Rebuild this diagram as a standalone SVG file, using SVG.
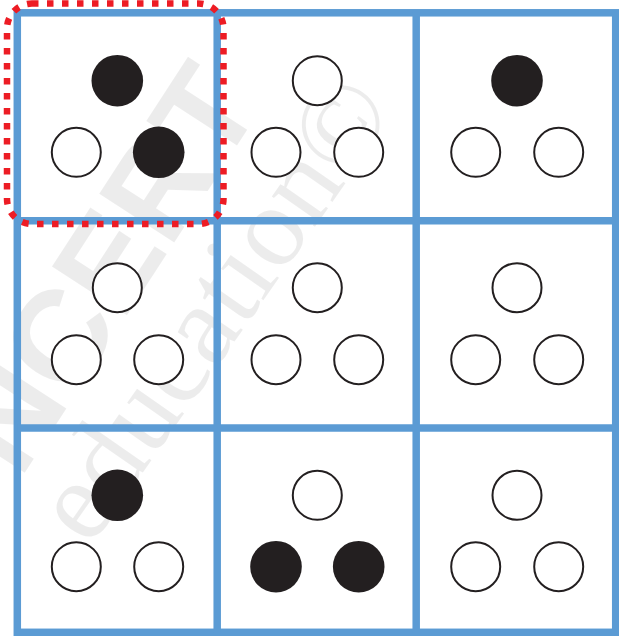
<svg xmlns="http://www.w3.org/2000/svg" width="619" height="636" viewBox="0 0 619 636">
<style>
.wm{fill:#000;fill-opacity:0.075}
.grid{fill:none;stroke:#5b9bd4;stroke-width:7.5}
.open{fill:#fff;stroke:#231f20;stroke-width:2}
.full{fill:#231f20}
.sel{fill:none;stroke:#ed1c24;stroke-width:6.5;stroke-dasharray:6.5 8.5}
</style>
<rect width="619" height="636" fill="#fff"/>
<g id="watermark">
<text class="wm" x="0" y="0" font-family="Liberation Sans, Arial, sans-serif" font-weight="bold" font-size="130" transform="translate(20,480) rotate(-57)">NCERT</text>
<text class="wm" x="0" y="0" font-family="Liberation Serif, Times New Roman, serif" font-size="115" transform="translate(90,548) rotate(-55)">education©</text>
</g>
<g id="connectors">
<rect class="grid" x="17.3" y="12.8" width="598.4" height="619.5"/>
<line class="grid" x1="217.2" y1="12.8" x2="217.2" y2="632.3"/>
<line class="grid" x1="416.2" y1="12.8" x2="416.2" y2="632.3"/>
<line class="grid" x1="17.3" y1="220.7" x2="615.7" y2="220.7"/>
<line class="grid" x1="17.3" y1="428" x2="615.7" y2="428"/>
</g>
<g id="cell-1-1">
<circle class="full" cx="117.3" cy="80.7" r="25.8"/>
<circle class="open" cx="76.3" cy="152.3" r="24.5"/>
<circle class="full" cx="158.7" cy="152.3" r="25.8"/>
</g>
<g id="cell-1-2">
<circle class="open" cx="317.3" cy="80.7" r="24.5"/>
<circle class="open" cx="276" cy="152.3" r="24.5"/>
<circle class="open" cx="358.7" cy="152.3" r="24.5"/>
</g>
<g id="cell-1-3">
<circle class="full" cx="517" cy="80.7" r="25.8"/>
<circle class="open" cx="475.7" cy="152.3" r="24.5"/>
<circle class="open" cx="558.7" cy="152.3" r="24.5"/>
</g>
<g id="cell-2-1">
<circle class="open" cx="117.3" cy="287.7" r="24.5"/>
<circle class="open" cx="76.3" cy="359.7" r="24.5"/>
<circle class="open" cx="158.7" cy="359.7" r="24.5"/>
</g>
<g id="cell-2-2">
<circle class="open" cx="317.3" cy="287.7" r="24.5"/>
<circle class="open" cx="276" cy="359.7" r="24.5"/>
<circle class="open" cx="358.7" cy="359.7" r="24.5"/>
</g>
<g id="cell-2-3">
<circle class="open" cx="517" cy="287.7" r="24.5"/>
<circle class="open" cx="475.7" cy="359.7" r="24.5"/>
<circle class="open" cx="558.7" cy="359.7" r="24.5"/>
</g>
<g id="cell-3-1">
<circle class="full" cx="117.3" cy="495.3" r="25.8"/>
<circle class="open" cx="76.3" cy="566.7" r="24.5"/>
<circle class="open" cx="158.7" cy="566.7" r="24.5"/>
</g>
<g id="cell-3-2">
<circle class="open" cx="317.3" cy="495.3" r="24.5"/>
<circle class="full" cx="276" cy="566.7" r="25.8"/>
<circle class="full" cx="358.7" cy="566.7" r="25.8"/>
</g>
<g id="cell-3-3">
<circle class="open" cx="517" cy="495.3" r="24.5"/>
<circle class="open" cx="475.7" cy="566.7" r="24.5"/>
<circle class="open" cx="558.7" cy="566.7" r="24.5"/>
</g>
<g id="selection">
<rect class="sel" x="7" y="3.5" width="216.5" height="220.5" rx="25" ry="25"/>
</g>
</svg>
